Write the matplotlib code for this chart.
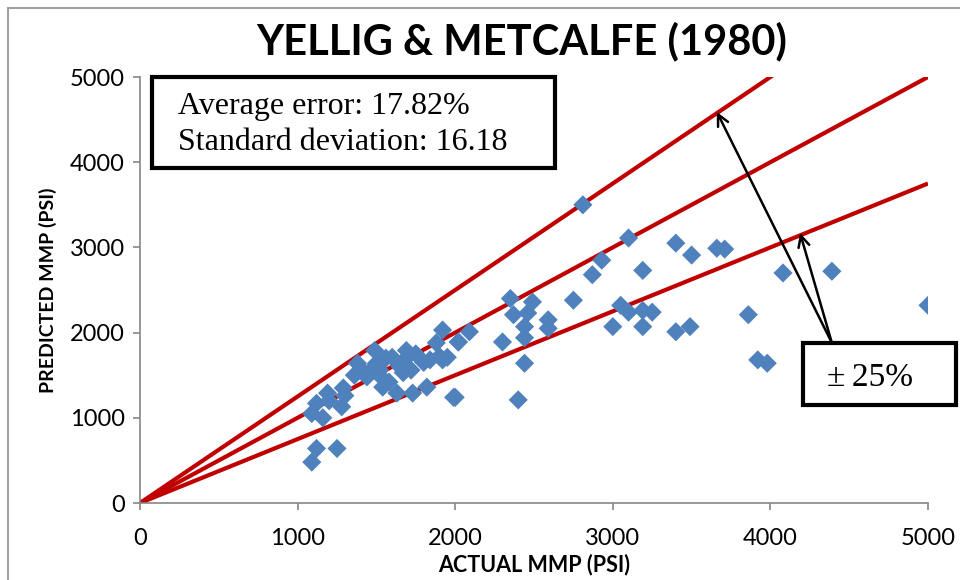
import matplotlib.pyplot as plt
from matplotlib.patches import Rectangle
import numpy as np

# actual vs predicted MMP (psi)
actual = [1090, 1120, 1250, 1090, 1160, 1120, 1190, 1280, 1290, 1200, 1300,
          1380, 1360, 1440, 1490, 1500, 1540, 1600, 1630, 1690, 1670, 1730,
          1820, 1840, 1880, 1920, 1990, 2020, 1520, 1560, 1580, 1650, 1700,
          1750, 1450, 1410, 1530, 1800, 1720,
          2350, 2490, 2370, 2460, 2440, 2440, 2590, 2590, 2300, 2440, 2400,
          2000, 2090, 2020, 1920, 1950, 1900,
          2750, 3050, 3100, 3190, 3250, 3000, 3190, 2810, 3100, 2930, 2870,
          3190, 3400, 3500, 3660, 3710, 3490, 3400, 3860, 4080, 4390, 3920,
          3980, 5000]
predicted = [480, 640, 640, 1050, 1000, 1170, 1290, 1130, 1350, 1200, 1260,
             1640, 1500, 1480, 1790, 1640, 1360, 1710, 1290, 1790, 1530, 1290,
             1360, 1680, 1880, 1680, 1240, 1890, 1560, 1700, 1420, 1600, 1720,
             1750, 1530, 1560, 1480, 1650, 1560,
             2400, 2360, 2210, 2230, 2070, 1940, 2150, 2050, 1890, 1640, 1210,
             1240, 2010, 1890, 2030, 1710, 1720,
             2380, 2320, 2240, 2260, 2240, 2070, 2070, 3500, 3110, 2850, 2680,
             2730, 3050, 2910, 2990, 2980, 2070, 2010, 2210, 2700, 2720, 1680,
             1640, 2320]

slopes = [1.25, 1.0, 0.75]

plt.rcParams['font.family'] = ['Lato', 'DejaVu Sans']

fig = plt.figure(figsize=(9.6, 5.8), dpi=100)
ax = fig.add_axes([140/960, 1-503/580, 788/960, 426/580])

xs = np.array([0, 5000])
for k in slopes:
    ax.plot(xs, k*xs, color='#C00000', lw=3, solid_capstyle='butt', zorder=2)

ax.scatter(actual, predicted, marker='D', s=95, color='#4F81BD',
           edgecolors='none', zorder=3)

ax.set_xlim(0, 5000)
ax.set_ylim(0, 5000)
ax.set_xticks(range(0, 5001, 1000))
ax.set_yticks(range(0, 5001, 1000))
for s in ['top', 'right']:
    ax.spines[s].set_visible(False)
for s in ['left', 'bottom']:
    ax.spines[s].set_color('#868686')
    ax.spines[s].set_linewidth(1.2)
ax.tick_params(direction='out', length=5, width=1.2, color='#868686',
               labelsize=17, pad=6)
ax.tick_params(axis='x', pad=13)

ax.set_xlabel('ACTUAL MMP (PSI)', fontsize=15.5, fontweight='bold', labelpad=3)
ax.set_ylabel('PREDICTED MMP (PSI)', fontsize=14, fontweight='bold', labelpad=9)
fig.text(0.543, 0.928, 'YELLIG & METCALFE (1980)', ha='center', va='center',
         fontsize=30, fontweight='bold')

# stats box
ax.add_patch(Rectangle((0.015, 0.786), 0.512, 0.214, transform=ax.transAxes,
                       fc='white', ec='black', lw=3, zorder=5, clip_on=False))
ax.text(0.048, 0.888, 'Average error: 17.82%\nStandard deviation: 16.18',
        transform=ax.transAxes, ha='left', va='center', fontsize=23,
        family='Liberation Serif', linespacing=1.3, zorder=6)

# +-25% label and arrows
ax.add_patch(Rectangle((4207, 1150), 971, 728, fc='white', ec='black', lw=3,
                       zorder=5, clip_on=False))
ax.text(4632, 1467, '±\u200925%', ha='center', va='center', fontsize=24,
        family=['Liberation Serif', 'DejaVu Serif'], zorder=6)
tail = (4390, 1880)
for tip in [(3660, 4590), (4188, 3169)]:
    ax.annotate('', xy=tip, xytext=tail,
                arrowprops=dict(arrowstyle='->,head_length=0.8,head_width=0.4',
                                color='black', lw=1.8, shrinkA=0, shrinkB=0),
                zorder=4)

# chart area border
fig.patches.append(Rectangle((8/960, -0.1), 1.2, 1-8/580+0.1,
                             transform=fig.transFigure, fill=False,
                             ec='#A0A0A0', lw=1.5))

plt.savefig('out.png', dpi=100)
